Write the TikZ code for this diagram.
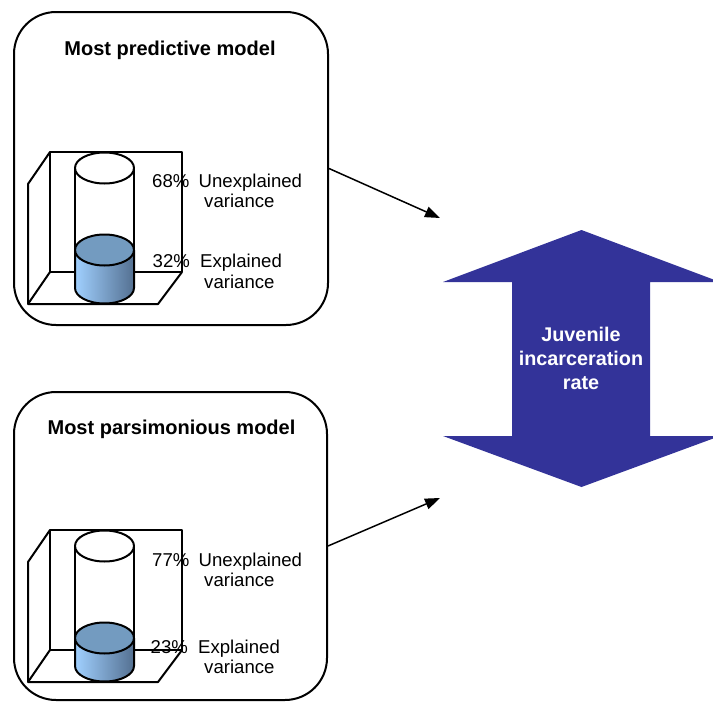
\documentclass[tikz,border=0pt]{standalone}
\usepackage{fontspec}
\setmainfont{Liberation Sans}
\usetikzlibrary{arrows.meta}
\definecolor{arrowblue}{RGB}{51,51,153}
\definecolor{liqtop}{RGB}{115,155,192}
\definecolor{liqlight}{RGB}{160,208,255}
\definecolor{liqdark}{RGB}{84,112,145}
\begin{document}
\begin{tikzpicture}[x=1pt,y=-1pt,
  panel/.style={draw, line width=2pt, rounded corners=42pt, fill=white, inner sep=0pt},
  title/.style={font=\bfseries\fontsize{20}{23}\selectfont, anchor=base, inner sep=0pt},
  lbl/.style={font=\fontsize{18.6}{21}\selectfont, anchor=base west, inner sep=0pt},
  link/.style={line width=1.5pt, -{Triangle[length=15pt,width=11pt]}},
  frame/.style={line width=2pt, line join=round},
  beaker/.pic={
    % open box behind the cylinder
    \draw[frame] (50,152) rectangle (182,272);
    \draw[frame] (50,152) -- (28,184) -- (28,304) -- (158,304) -- (182,272);
    \draw[frame] (28,304) -- (50,272);
    % liquid body
    \shade[left color=liqlight, right color=liqdark] (75,#1) -- (75,288)
      arc[start angle=180, end angle=360, x radius=29.5pt, y radius=15.5pt] -- (134,#1) -- cycle;
    \draw[frame] (75,#1) -- (75,288)
      arc[start angle=180, end angle=360, x radius=29.5pt, y radius=15.5pt] -- (134,#1);
    % empty part of the cylinder
    \draw[frame] (75,168) -- (75,#1) (134,168) -- (134,#1);
    \draw[frame, fill=liqtop] (104.5,#1) ellipse [x radius=29.5pt, y radius=15.5pt];
    \draw[frame, fill=white] (104.5,168) ellipse [x radius=29.5pt, y radius=15.5pt];
  }]
\useasboundingbox (0,0) rectangle (713,704);

% model panels
\node[panel, minimum width=314pt, minimum height=313pt] (predictive) at (171,168.5) {};
\node[panel, minimum width=313pt, minimum height=308pt] (parsimonious) at (170.5,546) {};

\node[title] (predtitle) at (170,56) {Most predictive model};
\node[title] (parstitle) at (171.5,434) {Most parsimonious model};

% variance cylinders
\pic at (0,0) {beaker=250};
\pic at (0,378) {beaker=260};

% labels, upper panel
\node[lbl] (p68) at (152,187) {68\%};
\node[lbl] (p68t) at (198.5,187) {Unexplained};
\node[lbl] (p68v) at (204,207.5) {variance};
\node[lbl] (p32) at (152.5,267.5) {32\%};
\node[lbl] (p32t) at (200,267.5) {Explained};
\node[lbl] (p32v) at (204,288.5) {variance};

% labels, lower panel
\node[lbl] (p77) at (152,566.5) {77\%};
\node[lbl] (p77t) at (198.5,566.5) {Unexplained};
\node[lbl] (p77v) at (204,586.5) {variance};
\node[lbl] (p23) at (150.5,653) {23\%};
\node[lbl] (p23t) at (198,653) {Explained};
\node[lbl] (p23v) at (204,673) {variance};

% outcome double arrow
\fill[arrowblue] (581.5,230) -- (720,282) -- (650,282) -- (650,436) -- (720,436)
  -- (581.5,487) -- (443,436) -- (512,436) -- (512,282) -- (443,282) -- cycle;
\node[font=\bfseries\fontsize{19.8}{24}\selectfont, text=white, align=center, inner sep=0pt]
  (outcome) at (581,358.7) {Juvenile\\incarceration\\rate};

% connectors
\coordinate (t1) at (440,218);
\coordinate (t2) at (440,498);
\draw[link] (predictive.east) -- (t1);
\draw[link] (parsimonious.east) -- (t2);
\end{tikzpicture}
\end{document}
